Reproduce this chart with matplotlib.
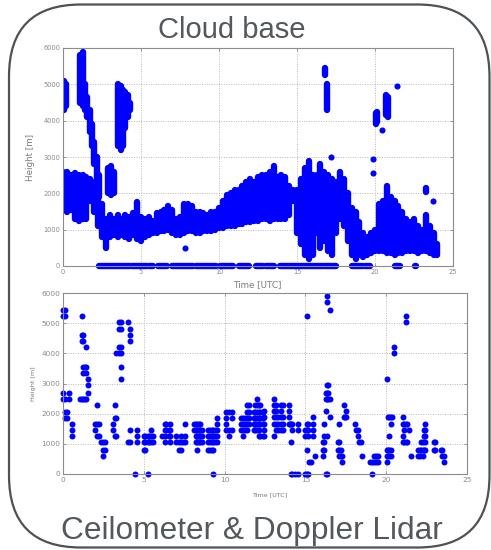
import matplotlib.pyplot as plt
from matplotlib.patches import FancyBboxPatch

# Cloud base, ceilometer (top panel): main layer as height ranges per time step
band_t = [0.0, 0.25, 0.5, 0.75, 1.0, 1.25, 1.5, 1.75,
          2.0, 2.25, 2.5, 2.75, 3.0, 3.25, 3.5, 3.75,
          4.0, 4.25, 4.5, 4.75, 5.0, 5.25, 5.5, 5.75,
          6.0, 6.25, 6.5, 6.75, 7.0, 7.25, 7.5, 7.75,
          8.0, 8.25, 8.5, 8.75, 9.0, 9.25, 9.5, 9.75,
          10.0, 10.25, 10.5, 10.75, 11.0, 11.25, 11.5, 11.75,
          12.0, 12.25, 12.5, 12.75, 13.0, 13.25, 13.5, 13.75,
          14.0, 14.25, 14.5, 14.75, 15.0, 15.25, 15.5, 15.75,
          16.0, 16.25, 16.5, 16.75, 17.0, 17.25, 17.5, 17.75,
          18.0, 18.25, 18.5, 18.75, 19.0, 19.25, 19.5, 19.75,
          20.0, 20.25, 20.5, 20.75, 21.0, 21.25, 21.5, 21.75,
          22.0, 22.25, 22.5, 22.75, 23.0, 23.25, 23.5, 23.75,
          24.0]
band_lo = [1600, 1500, 1550, 1300, 1250, 1300, 1300, 1800,
           1500, 1100, 800, 500, 800, 850, 800, 850,
           800, 750, 850, 750, 700, 800, 850, 900,
           900, 950, 950, 1000, 900, 850, 850, 900,
           950, 950, 900, 900, 950, 950, 950, 1000,
           1050, 1050, 1100, 1100, 1100, 1150, 1150, 1200,
           1200, 1250, 1250, 1300, 1300, 1250, 1300, 1300,
           1300, 1300, 1400, 1800, 900, 600, 300, 200,
           300, 900, 500, 700, 400, 300, 900, 1300,
           1100, 700, 300, 200, 300, 250, 300, 350,
           400, 400, 400, 350, 350, 300, 350, 350,
           400, 400, 400, 350, 400, 400, 350, 300,
           300]
band_hi = [2600, 2600, 2500, 2550, 2500, 2500, 2450, 2400,
           2300, 1900, 1700, 1300, 1400, 1300, 1400, 1300,
           1400, 1350, 1450, 1750, 1350, 1300, 1350, 1250,
           1450, 1500, 1550, 1650, 1550, 1300, 1350, 1700,
           1700, 1650, 1500, 1500, 1450, 1400, 1500, 1500,
           1600, 1800, 1950, 2000, 2100, 2100, 2200, 2300,
           2400, 2300, 2450, 2500, 2500, 2600, 2750, 2450,
           2500, 2450, 2200, 2100, 2100, 2400, 2700, 2900,
           2500, 2500, 2800, 2600, 2500, 2400, 2300, 2600,
           2400, 2000, 1600, 1500, 1200, 900, 800, 900,
           1000, 1700, 1800, 2200, 1900, 1800, 1650, 1500,
           1300, 1200, 1300, 1100, 1000, 1400, 1100, 900,
           600]

# higher cloud layers (top panel)
upper_t = [0.05, 0.2, 1.1, 1.25, 1.4, 1.55, 1.7, 1.85, 2.0, 2.15, 2.3,
           2.9, 3.1, 3.3, 3.55, 3.7, 3.85, 4.0, 4.15, 4.3,
           16.8, 16.95, 20.05, 20.15, 20.7, 20.85, 23.3]
upper_lo = [4300, 4400, 4500, 4400, 4300, 4100, 3700, 3300, 2800, 2400, 1900,
            2000, 1950, 2000, 3300, 3200, 3300, 3800, 4100, 4300,
            5250, 4300, 3900, 3950, 4150, 4100, 2050]
upper_hi = [5100, 5000, 5800, 5900, 5000, 4650, 4300, 3900, 3400, 3000, 2500,
            2700, 2750, 2600, 5000, 4950, 4850, 4800, 4700, 4500,
            5450, 5000, 4200, 4250, 4700, 4650, 2150]

# isolated detections (top panel)
single_t = [7.85, 17.2, 19.85, 19.85, 20.45, 21.4, 23.7]
single_h = [500, 3000, 2950, 2550, 3750, 4950, 1800]

# periods with zero cloud base (top panel)
ground_start = [2.3, 3.8, 4.4, 5.5, 6.1, 7.0, 8.55, 10.05, 11.3, 12.4, 13.0,
                13.9, 18.5, 19.35, 21.3, 22.55]
ground_end = [3.7, 4.3, 5.4, 5.8, 6.65, 8.35, 9.8, 10.9, 11.9, 12.8, 13.5,
              17.5, 19.2, 19.7, 21.6, 22.65]

# Doppler lidar (bottom panel): detected heights per time step
lidar_t = [0.0, 0.12, 0.25, 0.4, 0.55, 1.05, 1.15, 1.25, 1.35, 1.45, 1.55,
           2.0, 2.12, 2.25, 2.35, 2.5, 2.6, 3.1, 3.2, 3.3, 3.45, 3.57,
           4.05, 4.15, 4.45, 4.55, 5.0, 5.1, 5.25, 5.35, 5.45, 5.55,
           6.1, 6.3, 6.4, 6.55, 6.62, 7.0, 7.2, 7.3, 7.45, 7.55,
           8.1, 8.2, 8.3, 8.4, 8.5, 8.6, 9.0, 9.1, 9.2, 9.3, 9.4, 9.55,
           10.1, 10.25, 10.45, 11.0, 11.15, 11.25, 11.4, 11.5, 11.8, 11.9,
           12.0, 12.1, 12.2, 12.35, 12.45, 13.07, 13.17, 13.32, 13.49, 13.59,
           13.96, 14.05, 14.13, 14.2, 14.38, 14.52, 14.98, 15.08, 15.17,
           15.25, 15.37, 15.5, 15.58, 16.08, 16.16, 16.25, 16.33, 16.41, 16.5,
           17.03, 17.1, 17.2, 17.28, 17.37, 17.45, 17.53, 18.07, 18.15, 18.24,
           18.32, 18.42, 18.49, 18.98, 19.1, 19.23, 19.36, 19.52,
           20.02, 20.1, 20.19, 20.27, 20.35, 20.48, 21.02, 21.1, 21.22, 21.3,
           21.39, 21.51, 21.99, 22.1, 22.18, 22.26, 22.34, 22.43,
           22.97, 23.05, 23.38, 23.46, 23.55]
lidar_h = [[5450, 5250, 2700, 2500], [5450, 5250, 2500, 2050, 1850], [2050, 1850],
           [2700, 2500], [1650, 1450, 1250], [2500], [5250, 4600, 4400, 2500],
           [4600, 4400, 3550, 3350, 2500], [3550, 2500], [4200, 3550, 3350, 2500],
           [3150, 2950, 2700],
           [1650, 1450], [2300, 1650, 1250], [1650, 1250], [1050], [1050, 800, 600],
           [1050, 800], [1650, 1450], [2300, 1850, 1250], [4000, 1850, 1250],
           [5050, 4800, 4200, 4000], [5050, 4800, 4200, 4000, 3550, 3150],
           [5050, 1050], [4800, 4600, 4400, 1450, 1050], [0], [1450, 1250, 1050],
           [1250, 1050, 800], [1250, 1050, 800], [1250, 1050, 0], [1250, 1050],
           [1450, 1250, 1050], [1250, 1050],
           [1250], [1650, 1450, 1250, 1050], [1650, 1450], [1450, 1250],
           [1650, 1450, 1250, 1050], [1250, 1050], [1050, 800], [1250, 1050, 800],
           [1050], [1650, 1250, 1050],
           [1650, 1450], [1650, 1450, 1250, 1050], [1650, 1450, 1250, 1050, 800],
           [1650, 1450, 1250, 1050], [1650, 1450, 1250, 1050], [1450, 1250, 1050],
           [1450, 1250, 1050, 800], [1450, 1250, 1050, 800], [1450, 1250, 1050, 800],
           [1450, 1250, 1050, 800, 0], [1450, 1250, 1050], [1850, 1650, 1450, 1250, 1050],
           [2050, 1850, 1650, 1450], [2050, 1450, 1250], [2050, 1850, 1450],
           [1850, 1650, 1450], [1850, 1650, 1450, 1250], [1850, 1650, 1450],
           [2300, 2050, 1850, 1650, 1450], [2300, 2050, 1850, 1650],
           [2050, 1850, 1650, 1450], [2300, 2050, 1850, 1650, 1450],
           [2500, 2300, 2050, 1850, 1650, 1450], [2300, 2050, 1850, 1650, 1450, 1250],
           [2300, 2050, 1850, 1650, 1250], [2050, 1850, 1650, 1250],
           [2100, 1900, 1650, 1450, 1250], [2500, 2300, 2100, 1900, 1650, 1250],
           [2300, 2100, 1900, 1650, 1450], [1900, 1650, 1450],
           [2300, 2100, 1900, 1650, 1450], [2300, 1900, 1650, 1450],
           [2300, 2100, 1900, 1650], [1650], [1650, 1050, 0], [1650, 1450, 0], [0],
           [1650, 1450, 0], [1450, 1250, 0], [5250, 1650, 1450, 800, 0],
           [1650, 1450, 1250, 0],
           [400], [400], [1900, 1650, 1450, 1250], [600], [1050, 800, 600],
           [1650, 1250, 1050, 800], [2700, 2500, 2100, 0],
           [5900, 5700, 2950, 2700, 2500, 1250, 0], [2950, 2700, 2500], [5450, 2500, 1900],
           [1050, 800], [1650, 1050, 800, 600], [800, 600], [600, 400], [2300, 1900],
           [1900], [2100, 1900], [1650], [1450], [1450, 1250],
           [1050], [1050], [600], [400], [400, 0], [600, 400], [600, 400], [600, 400],
           [3150, 800, 600, 400], [1900, 800], [1900, 1250, 800, 600],
           [1900, 1650, 800, 600], [1900], [4200, 4000], [1900, 1650, 1250, 1050],
           [1650, 1450, 1050], [5250, 5050, 1650, 1050], [1650, 1050],
           [1450], [600], [800, 600], [800, 600], [1050, 800], [1050, 800, 600],
           [1450, 1250, 800], [1650, 1450, 1250, 1050, 800],
           [1050, 800], [1050, 800], [800], [800, 600], [600, 400]]

x_ticks = [0, 5, 10, 15, 20, 25]
y_ticks = [0, 1000, 2000, 3000, 4000, 5000, 6000]

DOT = 'blue'
TXT = '#53585d'


def style_axes(ax, tick_fs, label_fs):
    ax.set_xlim(0, 25)
    ax.set_ylim(0, 6000)
    ax.set_xticks(x_ticks)
    ax.set_yticks(y_ticks)
    ax.grid(True, color='#b8b8b8', linestyle=(0, (1, 1.5)), linewidth=0.7)
    ax.set_axisbelow(True)
    for s in ax.spines.values():
        s.set_color('#8c8c8c')
        s.set_linewidth(0.8)
    ax.tick_params(direction='in', length=2.5, width=0.6, color='#8c8c8c',
                   labelsize=tick_fs, labelcolor='#8a8a8a', pad=2, top=True, right=True)
    ax.set_xlabel('Time [UTC]', fontsize=label_fs, color='#7a7a7a')
    ax.set_ylabel('Height [m]', fontsize=label_fs, color='#7a7a7a')


fig = plt.figure(figsize=(4.91, 5.5), dpi=100)

# rounded frame and captions, in pixel units
bg = fig.add_axes([0, 0, 1, 1], zorder=0)
bg.set_xlim(0, 491)
bg.set_ylim(550, 0)
bg.axis('off')
bg.add_patch(FancyBboxPatch((9, 4.5), 480.5, 543, boxstyle='round,pad=0,rounding_size=72',
                            fill=False, ec='#4d5257', lw=1.6))
bg.text(232, 38, 'Cloud base', ha='center', va='baseline', fontsize=21,
        color=TXT, family='Liberation Sans')
bg.text(252, 539, 'Ceilometer & Doppler Lidar', ha='center', va='baseline',
        fontsize=22.8, color=TXT, family='Liberation Sans')

# top panel
ax1 = fig.add_axes([63 / 491, 284 / 550, 390 / 491, 218 / 550], zorder=1)
style_axes(ax1, 4.8, 6.3)
ax1.xaxis.set_label_coords(0.497, -0.064)
ax1.yaxis.set_label_coords(-0.072, 0.5)
lw = 4.6
vl = ax1.vlines(band_t, band_lo, band_hi, color=DOT, linewidth=lw)
vl.set_capstyle('round')
vu = ax1.vlines(upper_t, upper_lo, upper_hi, color=DOT, linewidth=lw)
vu.set_capstyle('round')
hg = ax1.hlines([0] * len(ground_start), ground_start, ground_end, color=DOT, linewidth=lw)
hg.set_capstyle('round')
hg.set_clip_on(False)
ax1.plot(single_t, single_h, 'o', color=DOT, ms=4.4, mew=0)

# bottom panel
ax2 = fig.add_axes([63 / 491, 76 / 550, 404 / 491, 181 / 550], zorder=1)
style_axes(ax2, 5.3, 4.6)
ax2.xaxis.set_label_coords(0.512, -0.1)
ax2.yaxis.set_label_coords(-0.068, 0.5)
pts_t = [t for t, hs in zip(lidar_t, lidar_h) for _ in hs]
pts_h = [h for hs in lidar_h for h in hs]
ax2.plot(pts_t, pts_h, 'o', color=DOT, ms=4.3, mew=0, clip_on=False)

fig.savefig('out.png', dpi=100)
